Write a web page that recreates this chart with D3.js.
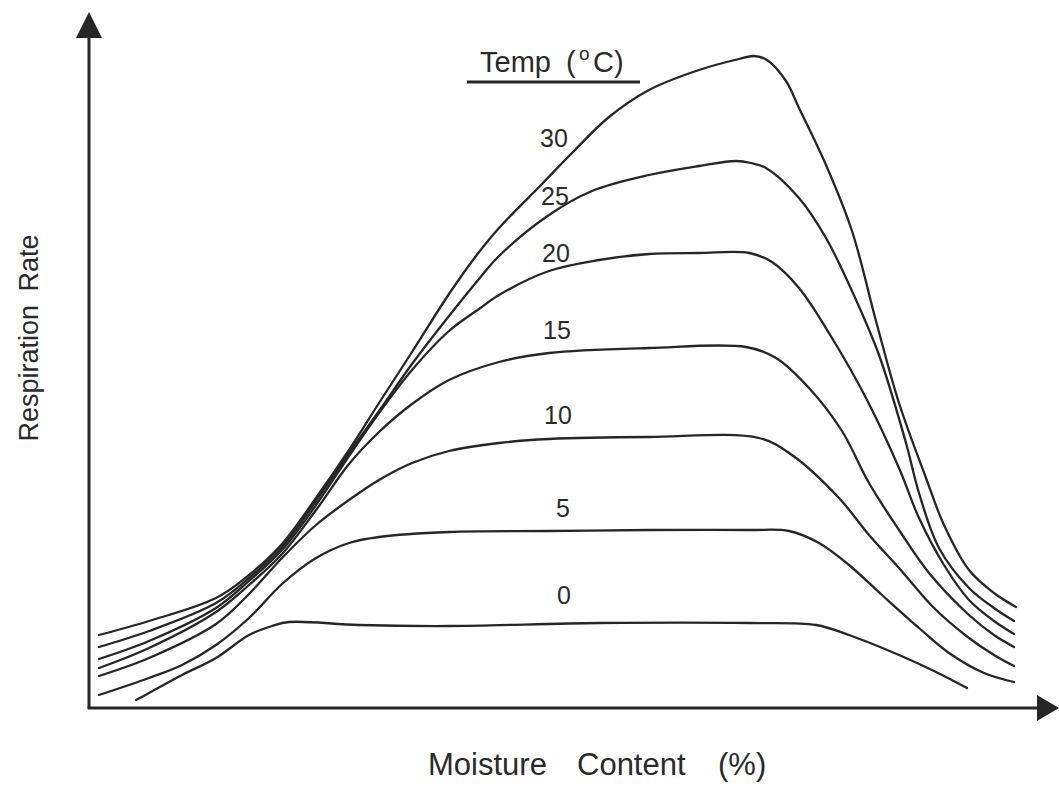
<!DOCTYPE html>
<html>
<head>
<meta charset="utf-8">
<script src="https://cdn.jsdelivr.net/npm/d3@7"></script>
<style>
  html, body { margin: 0; padding: 0; background: #ffffff; }
  svg { display: block; }
  text { font-family: "Liberation Sans", Arial, Helvetica, sans-serif; fill: #2a2a2a; }
</style>
</head>
<body>
<svg id="chart" width="1059" height="787"></svg>
<script>
// ---- Data (moisture content index, respiration rate index) ----
const temps = [0, 5, 10, 15, 20, 25, 30];

const x30 = [1.0,6.0,12.7,16.0,19.3,22.7,26.0,29.0,32.3,36.0,38.7,41.0,45.3,48.3,52.0,56.0,61.0,65.0,66.5,67.8,69.7,71.0,73.7,76.3,78.7,81.0,83.7,85.5,88.0,90.5,92.7];
const r30 = [7.3,8.7,11.0,13.3,16.4,21.0,25.8,30.5,35.6,41.4,45.2,48.0,52.4,55.5,59.1,61.8,63.8,64.9,65.2,64.8,62.7,60.0,54.3,47.7,38.7,30.5,23.0,18.3,13.8,11.5,10.1];

const x25 = [1.0,6.0,12.7,16.0,19.3,22.7,26.0,29.0,32.3,36.0,39.0,41.0,46.0,50.3,56.0,61.0,64.7,66.2,67.7,71.0,73.7,76.3,79.0,81.7,83.0,85.0,88.0,90.5,92.5];
const r25 = [6.1,7.7,10.5,13.0,16.1,20.7,25.5,29.7,34.4,39.2,42.9,45.2,49.3,51.7,53.3,54.2,54.7,54.5,54.0,51.0,47.0,41.7,35.3,26.5,21.5,16.0,12.0,10.0,8.7];

const x20 = [1.0,6.0,12.7,16.0,19.3,22.7,26.0,29.0,32.3,36.0,39.0,41.0,46.0,51.0,56.0,61.0,66.0,68.3,71.0,74.3,77.7,81.0,83.0,85.5,88.0,90.5,92.5];
const r20 = [4.9,6.7,10.0,12.7,15.8,20.3,25.2,29.5,33.8,37.7,39.9,41.3,43.7,44.8,45.4,45.5,45.5,44.6,42.0,37.0,31.0,24.0,19.0,14.3,10.8,8.7,7.4];

const x15 = [1.0,6.0,12.7,16.0,19.3,22.7,26.0,29.0,32.3,36.0,41.0,46.0,56.0,65.7,68.7,72.0,75.3,78.0,81.0,84.0,88.0,90.5,92.5];
const r15 = [4.0,6.0,9.6,12.3,15.4,19.8,24.4,27.6,30.4,32.8,34.6,35.5,36.0,36.1,35.0,32.0,27.7,22.5,17.8,13.5,9.3,7.3,6.1];

const x10 = [1.0,6.0,12.7,16.0,19.3,22.7,26.0,29.0,32.3,36.0,41.0,46.0,56.0,67.0,70.3,75.0,78.0,81.0,84.5,88.0,90.5,92.5];
const r10 = [3.2,5.0,8.4,11.4,15.0,18.3,20.8,22.8,24.5,25.7,26.5,26.9,27.1,27.0,25.3,21.0,17.3,14.0,10.0,7.0,5.3,4.2];

const x5 = [1.0,6.0,9.3,12.7,16.0,19.3,22.7,26.0,29.0,36.0,46.0,56.0,66.0,70.0,73.0,76.0,79.3,83.0,86.0,89.5,92.5];
const r5 = [1.3,3.0,4.3,6.3,9.0,12.4,15.0,16.5,17.1,17.6,17.7,17.8,17.8,17.7,16.5,14.3,11.3,8.0,5.5,3.5,2.6];

const x0 = [4.7,6.0,9.3,12.7,16.0,18.3,20.0,27.0,36.0,51.0,66.0,72.7,76.0,81.0,84.5,87.8];
const r0 = [0.8,1.5,3.3,5.0,7.3,8.2,8.6,8.3,8.2,8.5,8.5,8.3,7.3,5.3,3.7,2.0];

// Curve label anchors (in data units)
const labelMoisture = [47.5, 47.4, 46.9, 46.8, 46.7, 46.6, 46.5];
const labelRate     = [11.3, 20.0, 29.3, 37.8, 45.5, 51.2, 57.0];

const xTitle = "Moisture  Content  (%)";
const yTitle = "Respiration Rate";
const legendTitle = "Temp";

// ---- Build series ----
const xs = [x0, x5, x10, x15, x20, x25, x30];
const rs = [r0, r5, r10, r15, r20, r25, r30];
const seriesData = temps.map((t, i) => ({ temp: t, pts: xs[i].map((x, j) => [x, rs[i][j]]) }));

// ---- Scales ----
const svg = d3.select("#chart");
const x = d3.scaleLinear().domain([0, 100]).range([89, 1089]);
const y = d3.scaleLinear().domain([0, 70]).range([708, 8]);

const ink = "#262626";

// ---- Axes (arrows) ----
const axisG = svg.append("g");
const x0px = x(0), y0px = y(0);
const yTopPx = 38, xEndPx = 1037;
axisG.append("line").attr("x1", x0px).attr("y1", y0px).attr("x2", x0px).attr("y2", yTopPx)
  .attr("stroke", ink).attr("stroke-width", 3);
axisG.append("line").attr("x1", x0px - 1.5).attr("y1", y0px).attr("x2", xEndPx).attr("y2", y0px)
  .attr("stroke", ink).attr("stroke-width", 3);
axisG.append("path")
  .attr("d", `M${x0px - 13},${yTopPx} L${x0px},${yTopPx - 26} L${x0px + 13},${yTopPx} Z`)
  .attr("fill", ink);
axisG.append("path")
  .attr("d", `M${xEndPx},${y0px - 13} L${xEndPx + 22},${y0px} L${xEndPx},${y0px + 13} Z`)
  .attr("fill", ink);

// ---- Curves ----
const line = d3.line()
  .x(d => x(d[0]))
  .y(d => y(d[1]))
  .curve(d3.curveCatmullRom.alpha(0.5));

svg.append("g").selectAll("path")
  .data(seriesData)
  .join("path")
  .attr("d", d => line(d.pts))
  .attr("fill", "none")
  .attr("stroke", ink)
  .attr("stroke-width", 2.3)
  .attr("stroke-linecap", "round");

// ---- Curve labels ----
svg.append("g").selectAll("text")
  .data(temps)
  .join("text")
  .attr("x", (d, i) => x(labelMoisture[i]))
  .attr("y", (d, i) => y(labelRate[i]))
  .attr("text-anchor", "middle")
  .attr("dominant-baseline", "central")
  .attr("font-size", 25)
  .text(d => d);

// ---- Legend title "Temp ( °C)" ----
const lt = svg.append("text")
  .attr("y", 72)
  .attr("font-size", 29);
lt.append("tspan").attr("x", 480).text(legendTitle);
lt.append("tspan").attr("x", 566).text("(");
lt.append("tspan").attr("x", 579).attr("font-size", 19).attr("dy", -12).text("o");
lt.append("tspan").attr("x", 593).attr("dy", 12).text("C)");
svg.append("line").attr("x1", 467).attr("x2", 640).attr("y1", 82).attr("y2", 82)
  .attr("stroke", ink).attr("stroke-width", 3);

// ---- Axis titles ----
const xt = svg.append("text").attr("y", 775).attr("font-size", 31);
const xWords = xTitle.split(/\s+/);
const xWordPos = [428, 577, 718];
xWords.forEach((w, i) => xt.append("tspan").attr("x", xWordPos[i]).text(w));

svg.append("text")
  .attr("transform", "translate(38,338) rotate(-90)")
  .attr("text-anchor", "middle")
  .attr("font-size", 27)
  .attr("word-spacing", 6)
  .text(yTitle);
</script>
</body>
</html>
